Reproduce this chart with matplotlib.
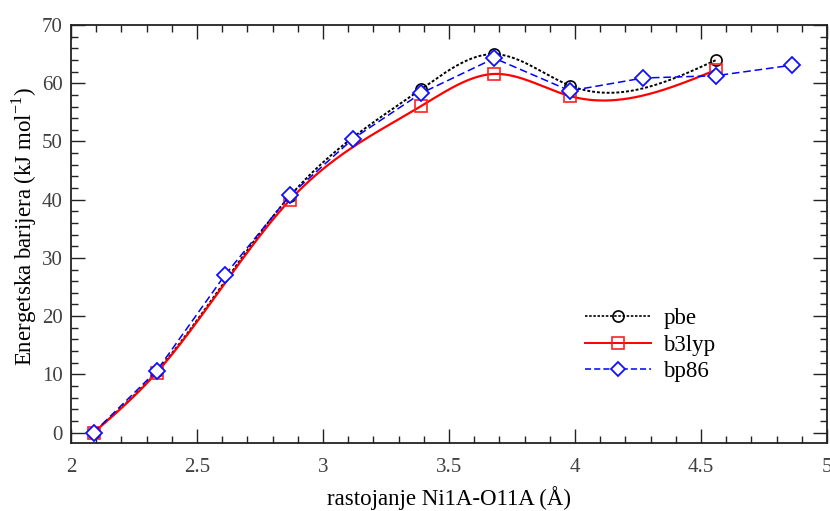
import numpy as np
import matplotlib
matplotlib.use("Agg")
import matplotlib.pyplot as plt
from matplotlib.ticker import MultipleLocator

plt.rcParams['font.family'] = ['Liberation Serif', 'DejaVu Serif']
plt.rcParams['mathtext.fontset'] = 'custom'
plt.rcParams['mathtext.rm'] = 'Liberation Serif'

# Ni1A-O11A distance (Å) and energy barrier (kJ/mol)
x_pbe = [2.09, 2.34, 2.87, 3.39, 3.68, 3.98, 4.56]
y_pbe = [0.0, 10.5, 40.7, 59.0, 65.0, 59.6, 64.0]

x_b3lyp = [2.09, 2.34, 2.87, 3.39, 3.68, 3.98, 4.56]
y_b3lyp = [0.0, 10.3, 40.0, 56.1, 61.6, 57.8, 62.3]

x_bp86 = [2.09, 2.34, 2.61, 2.87, 3.12, 3.39, 3.68, 3.98, 4.27, 4.56, 4.86]
y_bp86 = [0.0, 10.6, 27.0, 40.8, 50.5, 58.3, 64.3, 58.7, 60.9, 61.3, 63.1]

labels = ['pbe', 'b3lyp', 'bp86']
xticks = [2, 2.5, 3, 3.5, 4, 4.5, 5]
yticks = [0, 10, 20, 30, 40, 50, 60, 70]


def natural_spline(x, y, n=400):
    """Natural cubic spline through (x, y), evaluated on a dense grid."""
    x = np.asarray(x, float)
    y = np.asarray(y, float)
    m = len(x)
    h = np.diff(x)
    A = np.zeros((m, m))
    b = np.zeros(m)
    A[0, 0] = A[-1, -1] = 1.0
    for i in range(1, m - 1):
        A[i, i - 1] = h[i - 1]
        A[i, i] = 2 * (h[i - 1] + h[i])
        A[i, i + 1] = h[i]
        b[i] = 6 * ((y[i + 1] - y[i]) / h[i] - (y[i] - y[i - 1]) / h[i - 1])
    M = np.linalg.solve(A, b)
    xs = np.linspace(x[0], x[-1], n)
    idx = np.clip(np.searchsorted(x, xs) - 1, 0, m - 2)
    x0, x1 = x[idx], x[idx + 1]
    hh = x1 - x0
    t0 = x1 - xs
    t1 = xs - x0
    ys = (M[idx] * t0 ** 3 / (6 * hh) + M[idx + 1] * t1 ** 3 / (6 * hh)
          + (y[idx] / hh - M[idx] * hh / 6) * t0
          + (y[idx + 1] / hh - M[idx + 1] * hh / 6) * t1)
    return xs, ys


fig = plt.figure(figsize=(8.3, 5.11), dpi=100)
ax = fig.add_axes([0.0855, 0.133, 0.911, 0.818])

# smooth curves for pbe and b3lyp
xs, ys = natural_spline(x_pbe, y_pbe)
ax.plot(xs, ys, color='black', linestyle=(0, (1.5, 1.0)), lw=1.4, zorder=3)
ax.plot(x_pbe, y_pbe, linestyle='none', marker='o', ms=8, mfc='none',
        mec='black', mew=1.2, zorder=4)

xs, ys = natural_spline(x_b3lyp, y_b3lyp)
ax.plot(xs, ys, color='#ff0000', linestyle='-', lw=1.6, zorder=3)
ax.plot(x_b3lyp, y_b3lyp, linestyle='none', marker='s', ms=8.5, mfc='none',
        mec='#ff2020', mew=1.2, zorder=4)

ax.plot(x_bp86, y_bp86, color='#0000ff', linestyle=(0, (5, 2.5)), lw=1.1,
        marker='D', ms=8, mfc='white', mec='#1010ff', mew=1.3, zorder=5)

# legend handles
h1, = ax.plot([], [], color='black', linestyle=(0, (1.5, 1.0)), lw=1.2,
              marker='o', ms=8, mfc='none', mec='black', mew=1.2)
h2, = ax.plot([], [], color='#ff0000', lw=1.4, marker='s', ms=8.5,
              mfc='none', mec='#ff2020', mew=1.2)
h3, = ax.plot([], [], color='#0000ff', linestyle=(0, (4, 2)), lw=1.1,
              marker='D', ms=7.5, mfc='white', mec='#1010ff', mew=1.3)
ax.legend([h1, h2, h3], labels, loc='upper left',
          bbox_to_anchor=(0.668, 0.345), frameon=False, fontsize=16.5,
          handlelength=2.85, handletextpad=0.55, labelspacing=0.24,
          borderaxespad=0.0)

ax.set_xlim(2, 5)
ax.set_ylim(-1.8, 70)
ax.set_xticks(xticks)
ax.set_xticklabels([f'{t:g}' for t in xticks])
ax.set_yticks(yticks)
ax.xaxis.set_minor_locator(MultipleLocator(0.1))
ax.yaxis.set_minor_locator(MultipleLocator(2))
ax.tick_params(which='both', direction='in', top=True, right=True,
               labelsize=15, labelcolor='#404040', color='#222222')
ax.tick_params(axis='x', which='major', pad=11)
ax.tick_params(axis='y', which='major', pad=6)
ax.tick_params(which='major', length=10, width=1.0)
ax.tick_params(which='minor', length=5, width=1.0)
for s in ax.spines.values():
    s.set_linewidth(1.3)
    s.set_color('#222222')

ax.set_xlabel('rastojanje Ni1A-O11A (Å)', fontsize=16.5, labelpad=6)
ax.set_ylabel('Energetska barijera (kJ mol$^{\\mathregular{-1}}$)',
              fontsize=16.5)
ax.yaxis.set_label_coords(-0.042, 0.517)

fig.savefig('out.png', dpi=100)
